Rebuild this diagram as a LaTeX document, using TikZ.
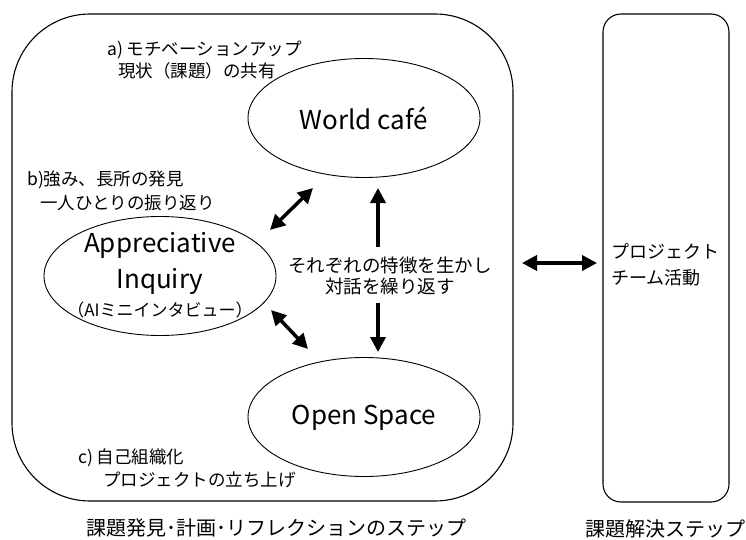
\documentclass[tikz,border=0pt]{standalone}
\usepackage{fontspec}
\setmainfont{Noto Sans CJK JP}
\usetikzlibrary{shapes.geometric,arrows.meta}
\begin{document}
\begin{tikzpicture}[x=1pt,y=-1pt,
  frame/.style={draw,line width=1.1pt,rectangle,inner sep=0pt},
  oval/.style={draw,line width=0.9pt,ellipse,inner sep=0pt,minimum width=232pt,minimum height=119pt},
  lbl/.style={inner sep=0pt,anchor=west,font=\fontsize{17.5}{22}\selectfont},
  big/.style={inner sep=0pt,font=\fontsize{26}{30}\selectfont},
  caption/.style={inner sep=0pt,font=\fontsize{20}{24}\selectfont},
  fat/.style={line width=3.5pt,{Triangle[length=15pt,width=15pt]}-{Triangle[length=15pt,width=15pt]}},
  fatone/.style={line width=3.5pt,-{Triangle[length=15pt,width=15pt]}}]
\useasboundingbox (0,0) rectangle (746,540);
\fill[white] (0,0) rectangle (746,540);

\node[frame,rounded corners=78pt,minimum width=501pt,minimum height=487pt] (stage) at (262.5,257.5) {};
\node[frame,rounded corners=18pt,minimum width=126pt,minimum height=488pt] (team) at (666,258) {};

\node[oval] (wc) at (364,118) {};
\node[big] (wctext) at (364,118) {World café};
\node[oval] (ai) at (160,276) {};
\node[big] (ai1) at (160,245) {Appreciative};
\node[big] (ai2) at (160,281) {Inquiry};
\node[inner sep=0pt,font=\fontsize{17}{22}\selectfont] (ai3) at (160,310) {（AIミニインタビュー）};
\node[oval] (os) at (364,417) {};
\node[big] (ostext) at (364,418) {Open Space};

\node[lbl] (a1) at (107,50) {a) モチベーションアップ};
\node[lbl] (a2) at (118,71) {現状（課題）の共有};
\node[lbl] (b1) at (27,180) {b)強み、長所の発見};
\node[lbl] (b2) at (40,203) {一人ひとりの振り返り};
\node[lbl] (c1) at (78,458) {c) 自己組織化};
\node[lbl] (c2) at (103,480) {プロジェクトの立ち上げ};

\node[inner sep=0pt,align=center,font=\fontsize{18.5}{21}\selectfont] (mid) at (390,276) {それぞれの特徴を生かし\\対話を繰り返す};
\node[inner sep=0pt,align=left,anchor=west,font=\fontsize{18}{26}\selectfont] (teamtext) at (611,265) {プロジェクト\\チーム活動};

\node[caption] (capl) at (276,528) {課題発見･計画･リフレクションのステップ};
\node[caption] (capr) at (665,529) {課題解決ステップ};

\coordinate (d1a) at (270,230);
\coordinate (d1b) at (313,188);
\coordinate (vua) at (378,247);
\coordinate (vub) at (378,188);
\coordinate (vda) at (378,303);
\coordinate (vdb) at (378,352);
\coordinate (d2a) at (271,310);
\coordinate (d2b) at (308,349);
\coordinate (ha) at (522,263);
\coordinate (hb) at (597,263);

\draw[fat] (d1a) -- (d1b);
\draw[fatone] (vua) -- (vub);
\draw[fatone] (vda) -- (vdb);
\draw[fat] (d2a) -- (d2b);
\draw[fat] (ha) -- (hb);
\end{tikzpicture}
\end{document}
